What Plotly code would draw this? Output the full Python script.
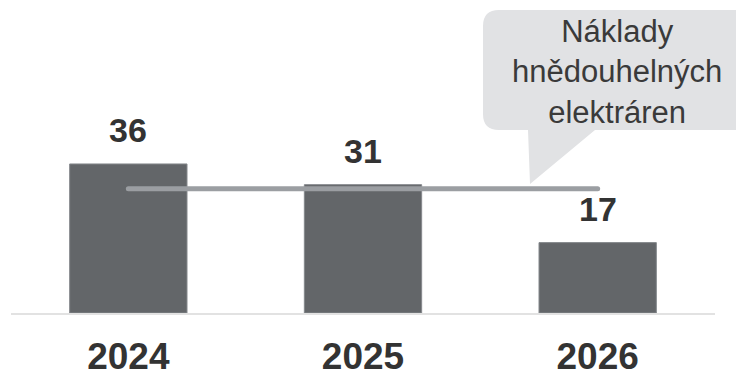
import plotly.graph_objects as go

years = ["2024", "2025", "2026"]
values = [36, 31, 17]
line_values = [30, 30, 30]
callout_text = "Náklady<br>hnědouhelných<br>elektráren"

# page has an 8px body margin; figure is sized/offset to compensate
OFF = 8
W, H = 736, 362
L, R, T, B = 3, 29, 0, 57
pw = W - L - R
ph = H - T - B

def px(x):
    return (x - OFF - L) / pw

def py(y):
    return (H - B - (y - OFF)) / ph

fig = go.Figure()
fig.add_trace(go.Bar(
    x=years, y=values,
    marker=dict(color="#636669", line=dict(color="#85888c", width=1)),
    hoverinfo="skip",
))
for i, v in enumerate(values):
    fig.add_annotation(x=i, y=v, xref="x", yref="y", text=f"<b>{v}</b>",
                       showarrow=False, yanchor="bottom", yshift=13,
                       font=dict(family="Liberation Sans, Arial", size=34, color="#333333"))
fig.add_trace(go.Scatter(
    x=years, y=line_values, mode="lines",
    line=dict(color="#9b9ea2", width=5),
    hoverinfo="skip",
))

# speech bubble
x0, x1, y0, y1, r = 483, 752, 10, 130, 16
tl, tr, tip = 528, 595, (530, 184)
path = (
    f"M {px(x0 + r)},{py(y0)} L {px(x1 - r)},{py(y0)} "
    f"Q {px(x1)},{py(y0)} {px(x1)},{py(y0 + r)} "
    f"L {px(x1)},{py(y1 - r)} Q {px(x1)},{py(y1)} {px(x1 - r)},{py(y1)} "
    f"L {px(tr)},{py(y1)} L {px(tip[0])},{py(tip[1])} L {px(tl)},{py(y1)} "
    f"L {px(x0 + r)},{py(y1)} Q {px(x0)},{py(y1)} {px(x0)},{py(y1 - r)} "
    f"L {px(x0)},{py(y0 + r)} Q {px(x0)},{py(y0)} {px(x0 + r)},{py(y0)} Z"
)
fig.add_shape(type="path", path=path, xref="paper", yref="paper",
              fillcolor="#e1e2e4", line=dict(width=0), layer="below")
fig.add_annotation(x=px(617), y=py(72), xref="paper", yref="paper",
                   text=callout_text, showarrow=False,
                   font=dict(family="Liberation Sans, Arial", size=31, color="#3a3a3a"),
                   align="center", xanchor="center", yanchor="middle")

fig.update_layout(
    width=W, height=H, margin=dict(l=L, r=R, t=T, b=B, autoexpand=False),
    paper_bgcolor="white", plot_bgcolor="white",
    showlegend=False, bargap=0.5,
    xaxis=dict(type="category", range=[-0.5, len(years) - 0.5],
               showline=True, linecolor="#e2e2e2", linewidth=2,
               showgrid=False, ticks="", ticklabelstandoff=10, automargin=False,
               tickfont=dict(family="Liberation Sans, Arial", size=37, color="#333333"),
               tickvals=years, ticktext=[f"<b>{y}</b>" for y in years]),
    yaxis=dict(range=[0, ph / 4.14], visible=False, automargin=False),
)
post = (
    "document.querySelectorAll('.scatterlayer path.js-line').forEach(function(p){"
    "p.style.strokeLinecap='round';});"
)
fig.write_html("out.html", post_script=post, config={"displayModeBar": False})
